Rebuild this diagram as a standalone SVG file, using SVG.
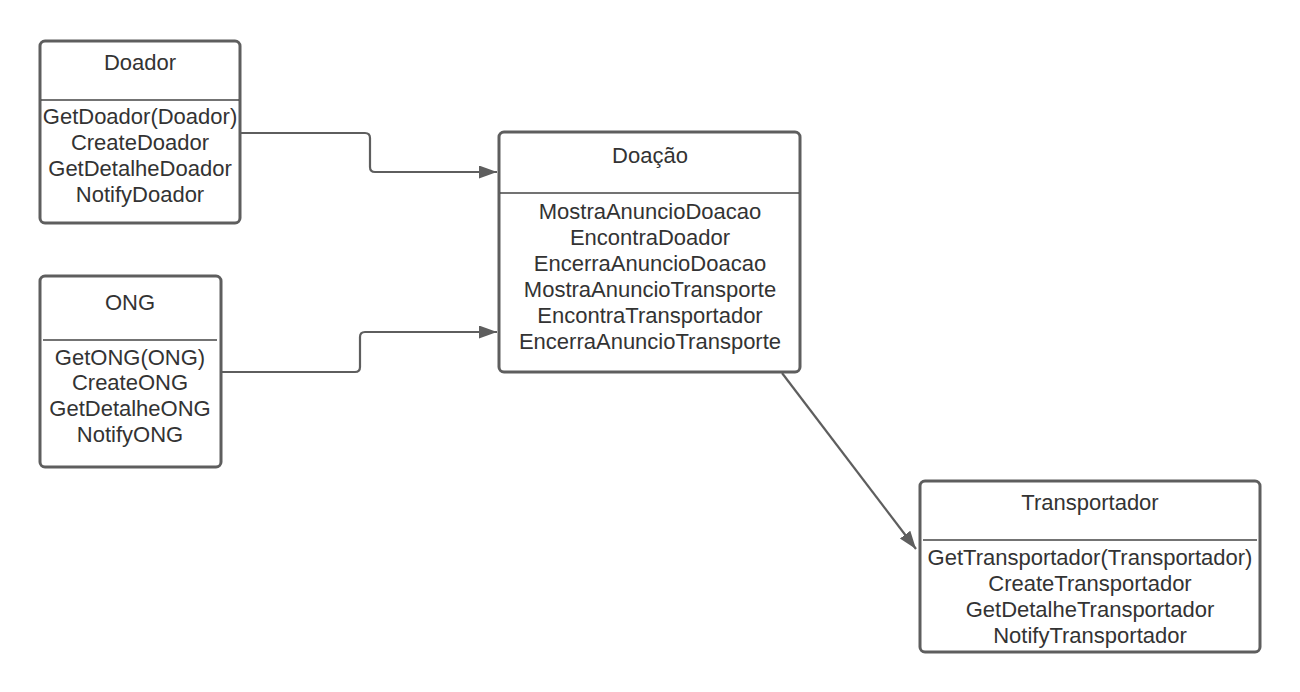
<svg xmlns="http://www.w3.org/2000/svg" width="1300" height="692" viewBox="0 0 1300 692">
<style>
.box{fill:#fff;stroke:#5e5e5e;stroke-width:3}
.div{stroke:#444;stroke-width:1.3}
.t{font-family:"Liberation Sans",Arial,sans-serif;font-size:22px;fill:#333;text-anchor:middle}
.c{fill:none;stroke:#5e5e5e;stroke-width:2.2}
</style>
<defs>
<marker id="ah" markerUnits="userSpaceOnUse" markerWidth="20" markerHeight="14" refX="18" refY="6.5" orient="auto">
<path d="M0,0 L18,6.5 L0,13 Z" fill="#5e5e5e"/>
</marker>
</defs>
<rect width="1300" height="692" fill="#fff"/>
<g id="connectors">
<path class="c" d="M240,133 H365 Q370,133 370,138 V167 Q370,172 375,172 H497" marker-end="url(#ah)"/>
<path class="c" d="M221,372 H355 Q360,372 360,367 V337 Q360,332 365,332 H497" marker-end="url(#ah)"/>
<path class="c" d="M782,373 L916,549" marker-end="url(#ah)"/>
</g>
<g id="doador">
<rect class="box" x="40" y="41" width="200" height="182" rx="5"/>
<line class="div" x1="41" y1="100" x2="239" y2="100"/>
<text class="t" x="140" y="70">Doador</text>
<text class="t" x="140" y="124">GetDoador(Doador)</text>
<text class="t" x="140" y="150">CreateDoador</text>
<text class="t" x="140" y="176">GetDetalheDoador</text>
<text class="t" x="140" y="202">NotifyDoador</text>
</g>
<g id="ong">
<rect class="box" x="40" y="276" width="181" height="191" rx="5"/>
<line class="div" x1="43" y1="340" x2="217" y2="340"/>
<text class="t" x="130" y="310">ONG</text>
<text class="t" x="130" y="365">GetONG(ONG)</text>
<text class="t" x="130" y="390">CreateONG</text>
<text class="t" x="130" y="416">GetDetalheONG</text>
<text class="t" x="130" y="442">NotifyONG</text>
</g>
<g id="doacao">
<rect class="box" x="499" y="132" width="301" height="240" rx="5"/>
<line class="div" x1="500" y1="193" x2="799" y2="193"/>
<text class="t" x="650" y="163">Doação</text>
<text class="t" x="650" y="219">MostraAnuncioDoacao</text>
<text class="t" x="650" y="245">EncontraDoador</text>
<text class="t" x="650" y="271">EncerraAnuncioDoacao</text>
<text class="t" x="650" y="297">MostraAnuncioTransporte</text>
<text class="t" x="650" y="323">EncontraTransportador</text>
<text class="t" x="650" y="349">EncerraAnuncioTransporte</text>
</g>
<g id="transportador">
<rect class="box" x="920" y="481" width="340" height="171" rx="5"/>
<line class="div" x1="923" y1="540" x2="1257" y2="540"/>
<text class="t" x="1090" y="510">Transportador</text>
<text class="t" x="1090" y="565">GetTransportador(Transportador)</text>
<text class="t" x="1090" y="591">CreateTransportador</text>
<text class="t" x="1090" y="617">GetDetalheTransportador</text>
<text class="t" x="1090" y="643">NotifyTransportador</text>
</g>
</svg>
